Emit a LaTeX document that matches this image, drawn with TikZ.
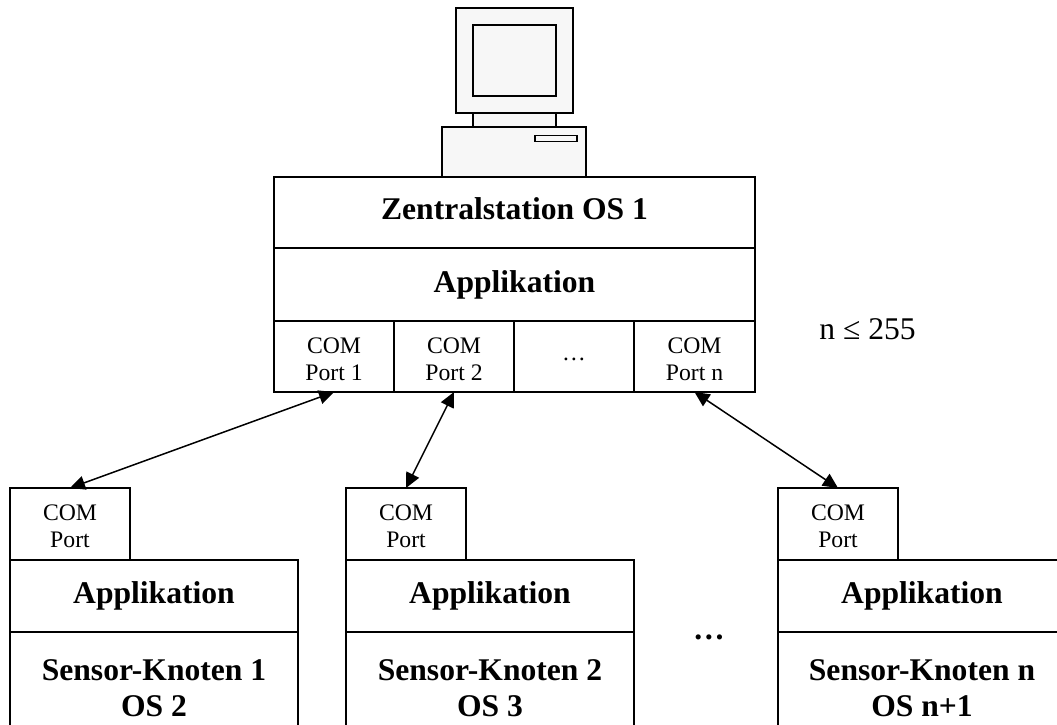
\documentclass[tikz,border=0pt]{standalone}
\usepackage{fontspec}
\setmainfont{Liberation Serif}
\usepackage{tikz}
\usetikzlibrary{positioning, arrows.meta}
\tikzset{
block/.style={
  draw, 
  rectangle, 
  line width=1.9pt,
  outer sep=0pt,
  inner sep=0pt,
  align=center
  }, 
titleblock/.style={
  block,
  font=\fontsize{31.6}{36}\selectfont\bfseries
  },
portblock/.style={
  block,
  minimum width=120pt, 
  minimum height=71pt,
  text height=47pt,
  text depth=0pt,
  font=\fontsize{23.7}{27}\selectfont
  },
appblock/.style={titleblock, minimum width=288pt, minimum height=72pt},
osblock/.style={titleblock, minimum width=288pt, minimum height=112pt},
pcpart/.style={block, fill=black!3},
line/.style={{Triangle[length=15pt,width=14pt]}-{Triangle[length=15pt,width=14pt]}, line width=1.5pt}
}
\begin{document}
\begin{tikzpicture}[x=1pt, y=1pt]
\useasboundingbox (0,0) rectangle (1057,-724);
\clip (0,0) rectangle (1057,-724);

\node[titleblock, minimum width=481pt, minimum height=71pt, text depth=7pt, anchor=north west]	(station)	at (274,-177)	{Zentralstation OS 1};
\node[titleblock, minimum width=481pt, minimum height=73pt]	(stationapp)	[below=0pt of station]	{Applikation};
\node[portblock, anchor=north west]	(port1)	at (stationapp.south west)	{COM \\ Port 1};
\node[portblock]	(port2)	[right=0pt of port1]	{COM \\ Port 2};
\node[portblock, text height=8pt]	(portdots)	[right=0pt of port2]	{…};
\node[portblock, minimum width=121pt]	(portn)	[right=0pt of portdots]	{COM \\ Port n};
\node[font=\fontsize{31.6}{36}\selectfont]	(limit)	at (867.5,-329)	{n ≤ 255};

\node[pcpart, minimum width=144pt, minimum height=50pt]	(base)	[above=0pt of station, xshift=-0.5pt]	{};
\node[pcpart, minimum width=83pt, minimum height=14pt]	(neck)	[above=0pt of base, xshift=0.5pt]	{};
\node[pcpart, minimum width=117pt, minimum height=105pt]	(monitor)	[above=0pt of neck]	{};
\node[pcpart, minimum width=83pt, minimum height=71pt]	(screen)	at (monitor)	{};
\node[pcpart, minimum width=42pt, minimum height=6pt]	(slot)	at ([xshift=42pt,yshift=13.5pt]base)	{};

\node[portblock, anchor=north west, minimum height=72pt]	(com1)	at (10,-488)	{COM \\ Port};
\node[appblock, anchor=north west]	(app1)	at (com1.south west)	{Applikation};
\node[osblock]	(sensor1)	[below=0pt of app1]	{Sensor-Knoten 1 \\ OS 2};

\node[portblock, anchor=north west, minimum height=72pt]	(com2)	at (346,-488)	{COM \\ Port};
\node[appblock, anchor=north west]	(app2)	at (com2.south west)	{Applikation};
\node[osblock]	(sensor2)	[below=0pt of app2]	{Sensor-Knoten 2 \\ OS 3};

\node[portblock, anchor=north west, minimum height=72pt]	(comn)	at (778,-488)	{COM \\ Port};
\node[appblock, anchor=north west]	(appn)	at (comn.south west)	{Applikation};
\node[osblock]	(sensorn)	[below=0pt of appn]	{Sensor-Knoten n \\ OS n+1};

\node[font=\fontsize{31.6}{36}\selectfont\bfseries]	(sensordots)	at (709,-637)	{…};

\draw[line]	(port1.south)	--	(com1.north);
\draw[line]	(port2.south)	--	(com2.north);
\draw[line]	(portn.south)	--	(comn.north);
\end{tikzpicture}
\end{document}
